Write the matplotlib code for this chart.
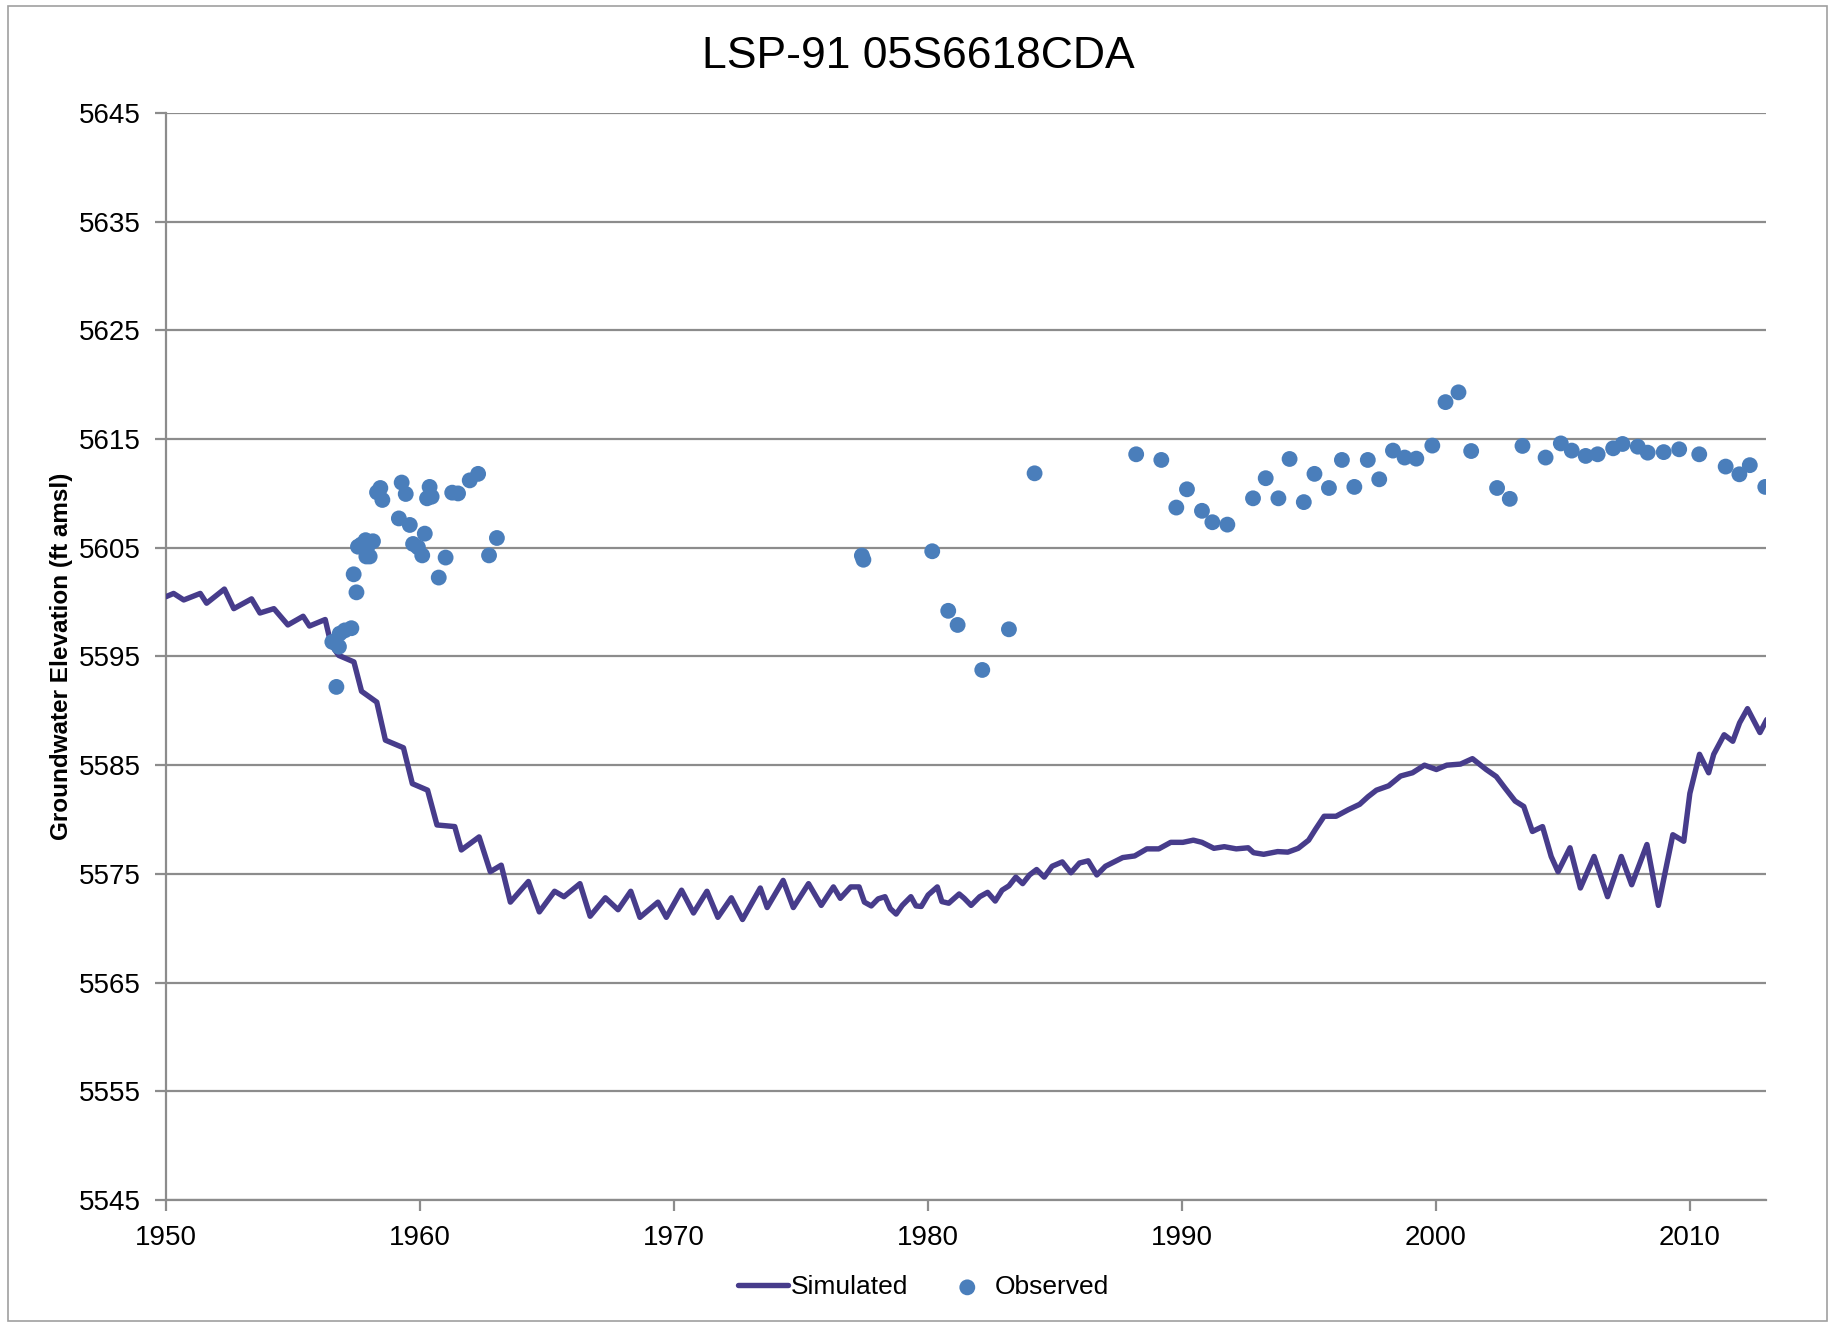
import matplotlib
matplotlib.use("Agg")
import matplotlib.pyplot as plt
from matplotlib.patches import Rectangle

plt.rcParams['font.family'] = ['Liberation Sans', 'DejaVu Sans']

# simulated groundwater elevation (decimal year, ft amsl)
sim_year = [1950.0, 1950.3, 1950.7, 1951.35, 1951.6, 1952.3, 1952.67, 1953.37, 1953.7, 1954.25,
            1954.8, 1955.4, 1955.65, 1956.27, 1956.5, 1956.8, 1957.4, 1957.7, 1958.3, 1958.64,
            1959.35, 1959.7, 1960.3, 1960.67, 1961.37, 1961.63, 1962.33, 1962.77, 1963.2, 1963.56,
            1964.27, 1964.7, 1965.3, 1965.67, 1966.3, 1966.7, 1967.3, 1967.8, 1968.3, 1968.66,
            1969.37, 1969.7, 1970.3, 1970.77, 1971.3, 1971.73, 1972.26, 1972.7, 1973.4, 1973.67,
            1974.3, 1974.7, 1975.3, 1975.8, 1976.28, 1976.55, 1976.96, 1977.29, 1977.5, 1977.77,
            1978.04, 1978.31, 1978.52, 1978.75, 1978.99, 1979.33, 1979.53, 1979.74, 1980.01, 1980.37,
            1980.55, 1980.82, 1981.23, 1981.43, 1981.7, 1982.04, 1982.35, 1982.65, 1982.92, 1983.19,
            1983.46, 1983.73, 1984.0, 1984.28, 1984.58, 1984.89, 1985.29, 1985.63, 1985.97, 1986.31,
            1986.65, 1986.99, 1987.33, 1987.67, 1988.14, 1988.62, 1989.09, 1989.56, 1990.04, 1990.45,
            1990.79, 1991.26, 1991.67, 1992.14, 1992.61, 1992.82, 1993.22, 1993.77, 1994.17, 1994.58,
            1994.99, 1995.26, 1995.6, 1996.07, 1996.55, 1997.0, 1997.33, 1997.66, 1998.14, 1998.61,
            1999.08, 1999.55, 2000.02, 2000.43, 2000.97, 2001.44, 2001.98, 2002.38, 2002.72, 2003.12,
            2003.46, 2003.8, 2004.2, 2004.54, 2004.81, 2005.28, 2005.69, 2006.23, 2006.76, 2007.3,
            2007.71, 2008.31, 2008.76, 2009.33, 2009.76, 2010.0, 2010.38, 2010.74, 2010.94, 2011.35,
            2011.69, 2011.96, 2012.27, 2012.76, 2013.03]
sim_elev = [5600.5, 5600.8, 5600.2, 5600.8, 5599.9, 5601.2, 5599.4, 5600.3, 5599.0, 5599.4,
            5597.9, 5598.7, 5597.8, 5598.4, 5596.1, 5595.1, 5594.5, 5591.8, 5590.8, 5587.3,
            5586.6, 5583.3, 5582.7, 5579.5, 5579.35, 5577.2, 5578.4, 5575.2, 5575.8, 5572.4,
            5574.3, 5571.5, 5573.4, 5572.9, 5574.1, 5571.1, 5572.8, 5571.7, 5573.4, 5571.0,
            5572.4, 5571.0, 5573.5, 5571.4, 5573.4, 5571.0, 5572.8, 5570.8, 5573.7, 5571.9,
            5574.4, 5571.9, 5574.1, 5572.1, 5573.8, 5572.75, 5573.8, 5573.8, 5572.4, 5572.05,
            5572.7, 5572.9, 5571.8, 5571.3, 5572.1, 5572.9, 5572.05, 5572.0, 5573.06, 5573.8,
            5572.45, 5572.3, 5573.15, 5572.75, 5572.1, 5572.9, 5573.3, 5572.5, 5573.5, 5573.9,
            5574.7, 5574.1, 5574.9, 5575.4, 5574.7, 5575.7, 5576.1, 5575.1, 5576.0, 5576.2,
            5574.9, 5575.7, 5576.1, 5576.5, 5576.65, 5577.3, 5577.3, 5577.9, 5577.9, 5578.1,
            5577.9, 5577.35, 5577.5, 5577.3, 5577.4, 5576.95, 5576.8, 5577.05, 5577.0, 5577.35,
            5578.1, 5579.1, 5580.3, 5580.3, 5580.9, 5581.4, 5582.1, 5582.7, 5583.1, 5584.0,
            5584.3, 5585.0, 5584.6, 5585.0, 5585.1, 5585.6, 5584.6, 5583.95, 5582.9, 5581.7,
            5581.2, 5578.9, 5579.35, 5576.6, 5575.2, 5577.4, 5573.7, 5576.6, 5572.9, 5576.6,
            5574.0, 5577.7, 5572.1, 5578.6, 5578.0, 5582.4, 5586.0, 5584.3, 5586.0, 5587.8,
            5587.2, 5588.9, 5590.2, 5588.0, 5589.2]

# observed groundwater elevation
obs_year = [1956.71, 1956.55, 1956.81, 1956.84, 1957.04, 1957.3, 1957.39, 1957.5, 1957.56, 1957.69,
            1957.86, 1958.15, 1957.95, 1957.89, 1958.02, 1958.31, 1958.44, 1958.52, 1959.28, 1959.44,
            1959.17, 1959.6, 1960.19, 1959.73, 1959.92, 1960.09, 1960.38, 1960.28, 1960.46, 1961.01,
            1960.74, 1961.27, 1961.5, 1961.96, 1962.29, 1962.72, 1963.03,
            1977.4, 1977.46, 1980.17, 1980.8, 1981.17, 1982.14, 1983.19, 1984.2,
            1988.2, 1989.19, 1989.78, 1990.2, 1990.79, 1991.2, 1991.79, 1992.8, 1993.3, 1993.8,
            1994.24, 1994.8, 1995.22, 1995.79, 1996.3, 1996.79, 1997.32, 1997.77, 1998.31, 1998.77,
            1999.23, 1999.86, 2000.38, 2000.89, 2001.39, 2002.41, 2002.91, 2003.41, 2004.32, 2004.92,
            2005.35, 2005.9, 2006.37, 2006.98, 2007.35, 2007.95, 2008.34, 2008.97, 2009.58, 2010.37,
            2011.41, 2011.95, 2012.36, 2012.97]
obs_elev = [5592.2, 5596.34, 5595.9, 5597.1, 5597.4, 5597.6, 5602.56, 5600.9, 5605.1, 5605.3,
            5605.7, 5605.6, 5605.2, 5604.2, 5604.2, 5610.1, 5610.5, 5609.4, 5611.0, 5609.95,
            5607.7, 5607.1, 5606.3, 5605.35, 5605.05, 5604.3, 5610.6, 5609.55, 5609.7, 5604.1,
            5602.26, 5610.07, 5610.0, 5611.2, 5611.8, 5604.3, 5605.9,
            5604.28, 5603.9, 5604.68, 5599.2, 5597.9, 5593.76, 5597.5, 5611.85,
            5613.6, 5613.08, 5608.7, 5610.38, 5608.4, 5607.35, 5607.13, 5609.55, 5611.4, 5609.55,
            5613.17, 5609.2, 5611.8, 5610.5, 5613.08, 5610.6, 5613.08, 5611.3, 5613.94, 5613.3,
            5613.2, 5614.4, 5618.4, 5619.3, 5613.9, 5610.5, 5609.5, 5614.37, 5613.3, 5614.6,
            5613.94, 5613.45, 5613.6, 5614.15, 5614.55, 5614.3, 5613.75, 5613.8, 5614.06, 5613.6,
            5612.47, 5611.76, 5612.6, 5610.6]

x_ticks = [1950, 1960, 1970, 1980, 1990, 2000, 2010]
y_ticks = list(range(5545, 5646, 10))

fig = plt.figure(figsize=(18.36, 13.23), dpi=100)
ax = fig.add_axes([0.0904, 0.0930, 0.8715, 0.8216])

grid_color = '#8c8c8c'
ax.set_axisbelow(True)
ax.grid(axis='y', color=grid_color, linewidth=1.6)

sim_line, = ax.plot(sim_year, sim_elev, color='#473C8B', linewidth=3.9,
                    solid_joinstyle='round', solid_capstyle='round', zorder=3)
obs_pts = ax.scatter(obs_year, obs_elev, s=130, color='#4A7EBB', edgecolors='none', zorder=4)

ax.set_xlim(1950, 2013)
ax.set_ylim(5545, 5645)
ax.set_xticks(x_ticks)
ax.set_yticks(y_ticks)
ax.tick_params(labelsize=20, color=grid_color, length=8, width=1.6, pad=10)

for side in ['top', 'right']:
    ax.spines[side].set_visible(False)
for side in ['left', 'bottom']:
    ax.spines[side].set_color(grid_color)
    ax.spines[side].set_linewidth(1.6)

ax.set_ylabel('Groundwater Elevation (ft amsl)', fontsize=17.5, fontweight='bold', labelpad=4)
fig.text(0.5, 0.957, 'LSP-91 05S6618CDA', fontsize=32, ha='center', va='center')

fig.legend([sim_line, obs_pts], ['Simulated', 'Observed'], loc='center',
           bbox_to_anchor=(0.503, 0.027), ncol=2, frameon=False, fontsize=19,
           handlelength=1.9, handletextpad=0.1, columnspacing=1.3)

fig.patches.append(Rectangle((0.0044, 0.0015), 0.9907, 0.994, transform=fig.transFigure,
                             fill=False, edgecolor='#a0a0a0', linewidth=1.2))

fig.savefig('out.png', dpi=100)
